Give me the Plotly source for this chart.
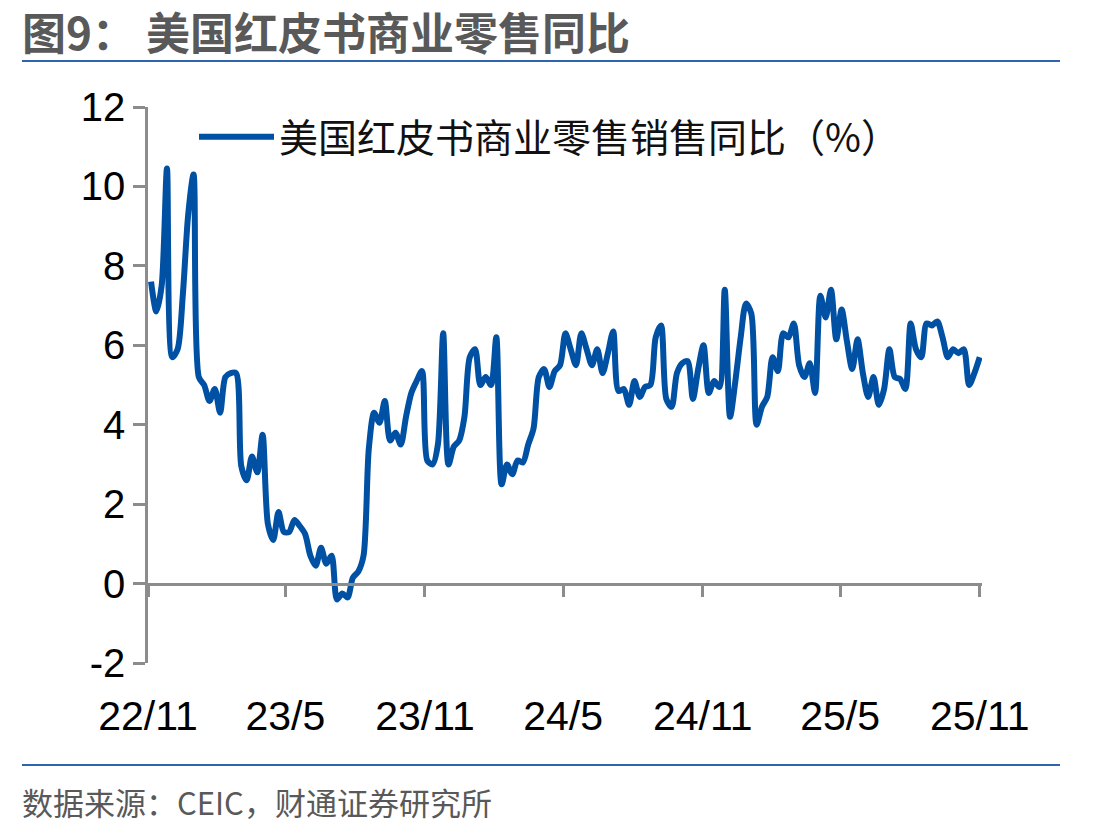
import pandas as pd
import plotly.graph_objects as go

# ---- data (weekly) ----
start_date = "2022-11-05"
values = [
    7.6, 6.85, 7.5, 10.45, 5.7, 5.9, 7.3, 9.3, 10.3, 5.2,
    5.0, 4.6, 4.9, 4.3, 5.2, 5.3, 5.3, 2.95, 2.6, 3.2,
    2.8, 3.75, 1.5, 1.1, 1.8, 1.3, 1.3, 1.6, 1.45, 1.25,
    0.7, 0.45, 0.9, 0.5, 0.7, -0.4, -0.25, -0.35, 0.15, 0.3,
    0.7, 3.4, 4.3, 4.05, 4.6, 3.6, 3.8, 3.5, 4.2, 4.8,
    5.1, 5.35, 3.1, 3.0, 3.5, 6.3, 3.0, 3.45, 3.6, 4.2,
    5.7, 5.9, 5.0, 5.2, 5.0, 6.2, 2.5, 3.0, 2.75, 3.1,
    3.05, 3.5, 3.9, 5.2, 5.4, 4.95, 5.35, 5.5, 6.3, 5.9,
    5.5, 6.3, 5.9, 5.5, 5.9, 5.3, 5.8, 6.35, 4.85, 4.9,
    4.5, 5.1, 4.7, 4.95, 5.0, 6.2, 6.5, 4.65, 4.45, 5.3,
    5.55, 5.6, 4.65, 5.4, 6.0, 4.8, 5.1, 4.95, 7.4, 4.2,
    5.1, 6.2, 7.05, 6.8, 4.0, 4.45, 4.7, 5.7, 5.35, 6.3,
    6.2, 6.55, 5.5, 5.2, 5.55, 4.8, 7.25, 6.7, 7.4, 6.15,
    6.9, 6.1, 5.4, 6.15, 5.3, 4.7, 5.2, 4.5, 4.9, 5.9,
    5.2, 5.15, 4.9, 6.55, 5.9, 5.7, 6.55, 6.5, 6.6, 6.2,
    5.7, 5.9, 5.8, 5.9, 5.0, 5.3, 5.7,
]
dates = pd.date_range(start_date, periods=len(values), freq="7D")

tick_dates = ["2022-11-01", "2023-05-01", "2023-11-01", "2024-05-01",
              "2024-11-01", "2025-05-01", "2025-11-01"]
tick_labels = ["22/11", "23/5", "23/11", "24/5", "24/11", "25/5", "25/11"]
y_ticks = [-2, 0, 2, 4, 6, 8, 10, 12]
y_tick_labels = ["-2", "0", "2", "4", "6", "8", "10", "12"]

series_name = "美国红皮书商业零售销售同比（%）"
title_text = "图9：&nbsp;美国红皮书商业零售同比"
source_text = "数据来源：CEIC，财通证券研究所"

# ---- figure ----
W, H = 1109, 833
L, R, T, B = 148, 127, 107, 170
pw, ph = W - L - R, H - T - B

def px_x(px):
    return (px - L) / pw

def px_y(py):
    return 1 - (py - T) / ph

x_range = ["2022-11-01", "2025-11-04"]
y_range = [-2, 12]

BLUE = "#0051A3"
AXIS = "#8C8C8C"
GRAY_TEXT = "#595959"
SEP = "#2F65AE"

fig = go.Figure()
fig.add_trace(go.Scatter(
    x=dates, y=values, mode="lines", name=series_name,
    line=dict(color=BLUE, width=6, shape="spline", smoothing=0.8),
    xaxis="x", yaxis="y",
))
# helper trace so the zero-line axis (x2) is drawn
fig.add_trace(go.Scatter(
    x=[dates[0]], y=[None], mode="lines", showlegend=False,
    hoverinfo="skip", xaxis="x2", yaxis="y",
))

font_latin = "Liberation Sans, Arial, sans-serif"
font_cjk = "Noto Sans CJK SC, Liberation Sans, sans-serif"

fig.update_layout(
    width=W, height=H,
    margin=dict(l=L, r=R, t=T, b=B),
    paper_bgcolor="white", plot_bgcolor="white",
    showlegend=True,
    legend=dict(
        x=px_x(194), y=px_y(137), xanchor="left", yanchor="middle",
        font=dict(family=font_cjk, size=39, color="#111111"),
        bgcolor="rgba(0,0,0,0)", borderwidth=0,
        itemwidth=75,
    ),
    xaxis=dict(
        type="date", range=x_range,
        tickmode="array", tickvals=tick_dates, ticktext=tick_labels,
        showline=False, showgrid=False, zeroline=False,
        ticks="", ticklabelstandoff=25,
        tickfont=dict(family=font_latin, size=41, color="black"),
    ),
    xaxis2=dict(
        type="date", range=x_range, overlaying="x", anchor="free",
        position=(0 - y_range[0]) / (y_range[1] - y_range[0]),
        tickmode="array", tickvals=tick_dates,
        showticklabels=False, showgrid=False, zeroline=False,
        showline=True, linecolor=AXIS, linewidth=2.5,
        ticks="outside", ticklen=12, tickcolor=AXIS, tickwidth=2.5,
    ),
    yaxis=dict(
        range=y_range, tickmode="array", tickvals=y_ticks, ticktext=y_tick_labels,
        showline=True, linecolor=AXIS, linewidth=2.5,
        ticks="outside", ticklen=12, tickcolor=AXIS, tickwidth=2.5,
        showgrid=False, zeroline=False,
        tickfont=dict(family=font_latin, size=40, color="black"),
    ),
)

fig.add_annotation(
    text="<b>" + title_text + "</b>", xref="paper", yref="paper",
    x=px_x(20), y=px_y(31), xanchor="left", yanchor="middle",
    showarrow=False, font=dict(family=font_cjk, size=44, color=GRAY_TEXT),
)
fig.add_annotation(
    text=source_text, xref="paper", yref="paper",
    x=px_x(20), y=px_y(801), xanchor="left", yanchor="middle",
    showarrow=False, font=dict(family=font_cjk, size=31, color=GRAY_TEXT),
)
for yy in (61, 765):
    fig.add_shape(
        type="line", xref="paper", yref="paper",
        x0=px_x(22), x1=px_x(1060), y0=px_y(yy), y1=px_y(yy),
        line=dict(color=SEP, width=2),
    )

fig.write_html("out.html")
